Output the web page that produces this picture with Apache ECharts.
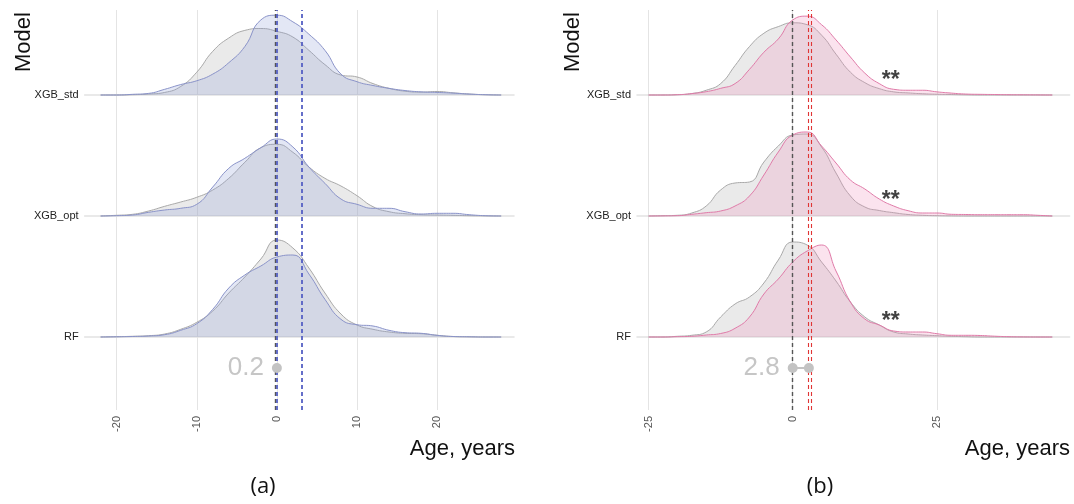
<!DOCTYPE html>
<html>
<head>
<meta charset="utf-8">
<script src="https://cdn.jsdelivr.net/npm/echarts@6/dist/echarts.min.js"></script>
<title>Age gap ridges</title>
<style>html,body{margin:0;padding:0;background:#fff;}</style>
</head>
<body>
<div id="main" style="width:1074px;height:504px;"></div>
<script>
// model rows, top to bottom
var models = ['XGB_std', 'XGB_opt', 'RF'];

// panel (a): age grid and densities (reference = grey, model = blue)
var ageA = [-22, -20, -18, -16, -14, -12, -10, -8, -6, -4, -2, 0, 2, 4, 6, 8, 10, 12, 14, 16, 18, 20, 22, 24, 26, 28];
var aStdRef = [0, 0, 0.3, 1, 2.7, 9, 24, 46, 60, 68, 70, 67, 61, 47, 32, 21, 19, 12, 7, 4, 3, 3.7, 2.3, 1, 0.3, 0];
var aStdMod = [0, 0, 0.7, 1.7, 6, 11, 15, 22, 34, 51, 79, 84, 77, 64, 47, 22, 14, 10, 7, 4.7, 3.3, 2.7, 2, 1, 0.3, 0];
var aOptRef = [0, 0.7, 1.7, 5, 9.7, 14, 18.7, 26, 37.7, 53.7, 68.3, 71.7, 63.7, 49, 37.7, 30, 20.3, 9.3, 4.3, 2.3, 1.3, 1, 0.7, 0.3, 0.1, 0];
var aOptMod = [0, 0.3, 1, 3.7, 6, 7.7, 11.7, 29, 47.7, 57.7, 68.3, 77, 69, 49, 32.7, 17, 11.7, 7.7, 7.7, 4.3, 2, 2.7, 2.7, 1.3, 0.3, 0];
var aRfRef = [0, 0.3, 0.7, 1.3, 3, 7.7, 14.7, 26, 44, 60, 78, 97, 89, 69, 44, 23, 12, 7.7, 5, 3.7, 3.3, 1.7, 0.5, 0.2, 0, 0];
var aRfMod = [0, 0.2, 0.5, 1, 2.3, 6.7, 13.3, 27.7, 49, 62, 71, 80, 82, 63, 37.7, 17.7, 12.3, 11, 6.7, 4.3, 3.7, 1.7, 0.5, 0.2, 0, 0];

// panel (b): age grid and densities (reference = grey, model = pink)
var ageB = [-25, -22.5, -20, -17.5, -15, -12.5, -10, -7.5, -5, -2.5, 0, 2.5, 5, 7.5, 10, 12.5, 15, 17.5, 20, 22.5, 25, 27.5, 30, 32.5, 35, 37.5, 40, 42.5, 45];
var bStdRef = [0, 0, 0.3, 1.5, 5, 12, 31, 51, 65, 72, 76, 74, 63, 43, 24, 13, 6.7, 3.3, 2.2, 1.3, 0.8, 0.5, 0.2, 0, 0, 0, 0, 0, 0];
var bStdMod = [0, 0, 0.3, 1.5, 3.5, 7, 12, 27, 45, 59, 79, 83, 74, 58, 40, 23, 12, 6, 5, 5, 3.3, 2, 1, 0.7, 0.5, 0.3, 0.2, 0.1, 0];
var bOptRef = [0, 0.3, 0.7, 3, 10, 26, 33, 34, 54, 70, 81, 82, 69, 43, 20, 9, 5.5, 3.3, 1.5, 0.7, 0.3, 0.1, 0, 0, 0, 0, 0, 0, 0];
var bOptMod = [0, 0.1, 0.3, 1.7, 3.3, 5, 10, 20, 41, 64, 81, 84, 70, 53, 36, 27, 17, 10, 5.3, 3, 3, 1.7, 1.5, 1.3, 1.3, 1.3, 1.3, 0.7, 0];
var bRfRef = [0, 0, 0.7, 1.7, 5, 20, 33, 40, 54, 77, 95, 92, 75, 56, 35, 20, 12, 5, 3, 2, 1.3, 0.7, 0.3, 0, 0, 0, 0, 0, 0];
var bRfMod = [0, 0, 0.3, 0.7, 2, 3.5, 8.7, 20, 43, 58, 75, 86, 92, 66, 35, 18, 12, 6, 5, 5, 3.3, 1.7, 1.7, 1.5, 0.8, 0.3, 0.1, 0, 0];

// x ticks
var ticksA = {min: -20, interval: 10};
var ticksB = {min: -25, interval: 25};

// mean lines, gaps
var aRefMean = [-0.2];
var aModMean = [0, 3.1];
var bRefMean = [0];
var bModMean = [2.7, 3.2];
var gapA = 0.2;
var gapB = 2.8;
var gapRowY = 10.5;

// significance marks (panel b)
var sigX = [17, 17, 17];
var sigY = [15.5, 15.5, 15];

var baseY = [95, 216, 337];
var myChart = echarts.init(document.getElementById('main'));
var font = 'Liberation Sans';

var grids = [], xAxes = [], yAxes = [], series = [];

function addPanel(p) {
    var mainIdx = grids.length;
    grids.push({left: p.mainLeft, right: p.right, top: 10, bottom: 94});
    xAxes.push({
        gridIndex: mainIdx, type: 'value', min: p.ticks.min, max: p.max, interval: p.ticks.interval,
        axisLine: {show: false}, axisTick: {show: false},
        axisLabel: {rotate: 90, fontSize: 11, color: '#555', margin: 6, showMaxLabel: false, fontFamily: font},
        splitLine: {show: true, showMaxLine: false, lineStyle: {color: '#e4e4e4', width: 1}}
    });
    yAxes.push({gridIndex: mainIdx, type: 'value', min: 0, max: 100, show: false});

    for (var i = 0; i < 3; i++) {
        var gi = grids.length;
        grids.push({left: p.ridgeLeft, right: p.right, bottom: 504 - baseY[i], height: 100});
        xAxes.push({
            gridIndex: gi, type: 'value', min: p.ridgeMin, max: p.max,
            axisLine: {show: true, lineStyle: {color: '#e2e2e2', width: 1.5}},
            axisTick: {show: false}, axisLabel: {show: false}, splitLine: {show: false}
        });
        (function (name) {
            yAxes.push({
                gridIndex: gi, type: 'value', min: 0, max: 100, interval: 100,
                axisLine: {show: false}, axisTick: {show: false}, splitLine: {show: false},
                axisLabel: {fontSize: 11, color: '#222', margin: 6, fontFamily: font,
                    formatter: function (v) { return v === 0 ? name : ''; }}
            });
        })(models[i]);
        var refData = p.ages.map(function (x, k) { return [x, p.ref[i][k]]; });
        var modData = p.ages.map(function (x, k) { return [x, p.mod[i][k]]; });
        series.push({
            type: 'line', xAxisIndex: gi, yAxisIndex: gi, data: refData, smooth: 0.5,
            showSymbol: false, clip: false, z: 2,
            lineStyle: {color: '#a9a9a9', width: 1},
            areaStyle: {color: 'rgba(190,190,190,0.45)'}
        });
        series.push({
            type: 'line', xAxisIndex: gi, yAxisIndex: gi, data: modData, smooth: 0.5,
            showSymbol: false, clip: false, z: 3,
            lineStyle: {color: p.lineColor, width: 1},
            areaStyle: {color: p.fillColor}
        });
        if (p.sig) {
            series.push({
                type: 'scatter', xAxisIndex: gi, yAxisIndex: gi, z: 6,
                data: [[sigX[i], sigY[i]]], symbolSize: 1, itemStyle: {color: 'rgba(0,0,0,0)'},
                label: {show: true, position: 'inside', formatter: '**', fontSize: 23,
                    fontWeight: 'bold', color: '#111', fontFamily: font}
            });
        }
    }

    var lines = [];
    p.refMean.forEach(function (v) {
        lines.push({xAxis: v, lineStyle: {color: '#555', type: [4, 3], width: 1.4}});
    });
    p.modMean.forEach(function (v) {
        lines.push({xAxis: v, lineStyle: {color: p.meanColor, type: [4, 3], width: p.meanWidth}});
    });
    var dots = p.dots.map(function (x) { return [x, gapRowY]; });
    series.push({
        type: 'line', xAxisIndex: mainIdx, yAxisIndex: mainIdx, z: 8,
        data: dots, symbol: 'circle', symbolSize: 10, showSymbol: true,
        itemStyle: {color: '#c3c3c3'}, lineStyle: {color: '#c3c3c3', width: 2},
        label: {show: true, position: 'left', distance: 8, fontSize: 26, color: '#c6c6c6', fontFamily: font,
            formatter: function (d) { return d.dataIndex === 0 ? String(p.gap) : ''; }},
        markLine: {silent: true, symbol: 'none', label: {show: false}, data: lines}
    });
}

addPanel({
    ages: ageA, ref: [aStdRef, aOptRef, aRfRef], mod: [aStdMod, aOptMod, aRfMod],
    ticks: ticksA, max: 29.6, ridgeMin: -24, mainLeft: 116.7, ridgeLeft: 84.6, right: 560,
    lineColor: '#8a93c9', fillColor: 'rgba(140,155,215,0.35)', meanColor: '#5560c4', meanWidth: 1.8,
    refMean: aRefMean, modMean: aModMean, dots: [0], gap: gapA, sig: false
});
addPanel({
    ages: ageB, ref: [bStdRef, bOptRef, bRfRef], mod: [bStdMod, bOptMod, bRfMod],
    ticks: ticksB, max: 48, ridgeMin: -27, mainLeft: 648.5, ridgeLeft: 637, right: 4.4,
    lineColor: '#e07aa8', fillColor: 'rgba(240,140,185,0.35)', meanColor: '#e03535', meanWidth: 1.1,
    refMean: bRefMean, modMean: bModMean, dots: [0, gapB], gap: gapB, sig: true
});

function txt(x, y, s, size, opts) {
    opts = opts || {};
    return {
        type: 'text', x: x, y: y, rotation: opts.rot || 0, z: 20,
        style: {text: s, font: size + 'px ' + (opts.family || font), fill: '#111',
            textAlign: opts.align || 'center', textVerticalAlign: 'middle'}
    };
}

myChart.setOption({
    animation: false,
    backgroundColor: '#fff',
    grid: grids,
    xAxis: xAxes,
    yAxis: yAxes,
    series: series,
    graphic: [
        txt(24, 42, 'Model', 22, {rot: Math.PI / 2}),
        txt(573, 42, 'Model', 22, {rot: Math.PI / 2}),
        txt(515, 449, 'Age, years', 22, {align: 'right'}),
        txt(1070, 449, 'Age, years', 22, {align: 'right'}),
        txt(263, 487, '(a)', 22, {family: 'Open Sans'}),
        txt(820, 487, '(b)', 22, {family: 'Open Sans'})
    ]
});
</script>
</body>
</html>
